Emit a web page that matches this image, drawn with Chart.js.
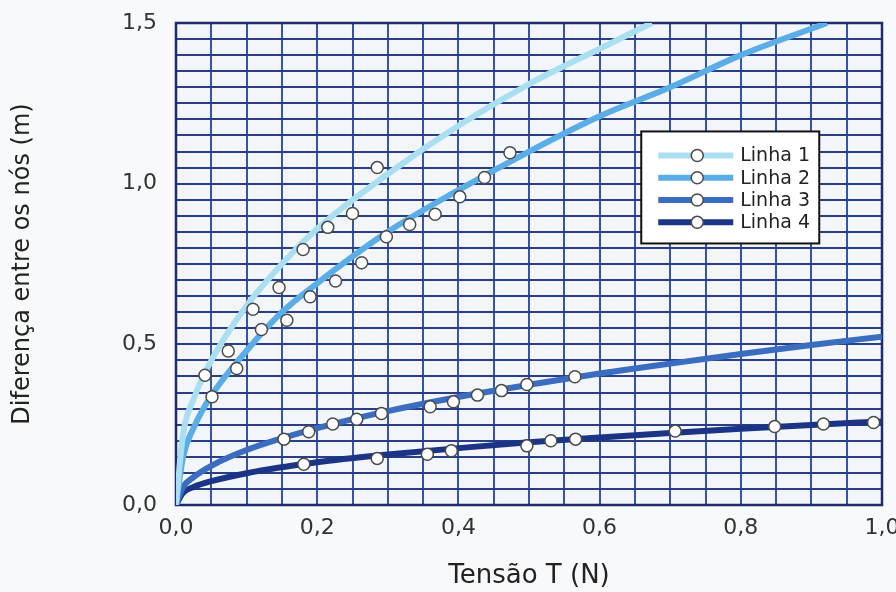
<!DOCTYPE html>
<html>
<head>
<meta charset="utf-8">
<script src="https://cdn.jsdelivr.net/npm/chart.js@4.4.1/dist/chart.umd.min.js"></script>
<style>
  html, body { margin: 0; padding: 0; background: #f8f9fa; }
  canvas { display: block; }
</style>
</head>
<body>
<canvas id="grafico" width="896" height="592"></canvas>
<script>
// Curvas ajustadas
var curvaX1 = [0, 0.01, 0.025, 0.05, 0.1, 0.15, 0.2, 0.3, 0.4, 0.5, 0.6, 0.674];
var curvaY1 = [0, 0.22, 0.33, 0.45, 0.62, 0.75, 0.86, 1.03, 1.18, 1.31, 1.42, 1.5];
var curvaX2 = [0, 0.01, 0.025, 0.05, 0.1, 0.15, 0.2, 0.3, 0.4, 0.5, 0.6, 0.7, 0.8, 0.922];
var curvaY2 = [0, 0.15, 0.24, 0.34, 0.48, 0.60, 0.69, 0.85, 0.98, 1.10, 1.21, 1.30, 1.40, 1.5];
var curvaX34 = [0, 0.01, 0.025, 0.05, 0.1, 0.2, 0.3, 0.4, 0.5, 0.6, 0.7, 0.8, 0.9, 1.0];
var curvaY3 = [0, 0.056, 0.087, 0.122, 0.171, 0.239, 0.292, 0.336, 0.374, 0.409, 0.44, 0.47, 0.498, 0.524];
var curvaY4 = [0, 0.038, 0.056, 0.074, 0.099, 0.133, 0.157, 0.177, 0.195, 0.21, 0.224, 0.237, 0.249, 0.26];

// Pontos medidos
var pontosX1 = [0.041, 0.074, 0.109, 0.146, 0.180, 0.215, 0.250, 0.285];
var pontosY1 = [0.404, 0.479, 0.609, 0.677, 0.795, 0.864, 0.907, 1.050];
var pontosX2 = [0.051, 0.086, 0.121, 0.157, 0.190, 0.226, 0.263, 0.298, 0.331, 0.367, 0.402, 0.437, 0.473];
var pontosY2 = [0.337, 0.425, 0.546, 0.575, 0.648, 0.697, 0.754, 0.835, 0.873, 0.905, 0.959, 1.019, 1.096];
var pontosX3 = [0.153, 0.188, 0.222, 0.256, 0.291, 0.360, 0.393, 0.427, 0.461, 0.497, 0.565];
var pontosY3 = [0.205, 0.228, 0.252, 0.267, 0.285, 0.306, 0.321, 0.342, 0.356, 0.375, 0.399];
var pontosX4 = [0.181, 0.285, 0.356, 0.390, 0.497, 0.531, 0.566, 0.707, 0.848, 0.917, 0.988];
var pontosY4 = [0.127, 0.145, 0.158, 0.169, 0.184, 0.200, 0.205, 0.230, 0.244, 0.252, 0.257];

var nomes = ["Linha 1", "Linha 2", "Linha 3", "Linha 4"];
var cores = ["#a9dff0", "#5aade6", "#3a6cc0", "#1c3486"];

function pares(xs, ys) {
  return xs.map(function (x, i) { return { x: x, y: ys[i] }; });
}

function virgula(v, casas) {
  return v.toFixed(casas).replace(".", ",");
}

var curvas = [pares(curvaX1, curvaY1), pares(curvaX2, curvaY2), pares(curvaX34, curvaY3), pares(curvaX34, curvaY4)];
var pontos = [pares(pontosX1, pontosY1), pares(pontosX2, pontosY2), pares(pontosX3, pontosY3), pares(pontosX4, pontosY4)];

var datasets = [];
for (var i = 0; i < 4; i++) {
  datasets.push({
    label: nomes[i],
    data: curvas[i],
    showLine: true,
    borderColor: cores[i],
    borderWidth: 6,
    pointRadius: 0,
    cubicInterpolationMode: 'monotone',
    order: 2
  });
  datasets.push({
    label: nomes[i] + " (pontos)",
    data: pontos[i],
    showLine: false,
    pointRadius: 6,
    pointBackgroundColor: '#ffffff',
    pointBorderColor: '#4a4a4a',
    pointBorderWidth: 1.5,
    order: 1
  });
}

// fundo e moldura da área do gráfico
var moldura = {
  id: 'moldura',
  beforeDraw: function (chart) {
    var a = chart.chartArea, ctx = chart.ctx;
    ctx.save();
    ctx.fillStyle = '#f2f6fb';
    ctx.fillRect(a.left, a.top, a.right - a.left, a.bottom - a.top);
    ctx.restore();
  },
  beforeDatasetsDraw: function (chart) {
    var a = chart.chartArea, ctx = chart.ctx;
    ctx.save();
    ctx.strokeStyle = '#1d2c6a';
    ctx.lineWidth = 2.5;
    ctx.strokeRect(a.left, a.top, a.right - a.left, a.bottom - a.top);
    ctx.restore();
  }
};

// legenda dentro da área
var legenda = {
  id: 'legenda',
  afterDraw: function (chart) {
    var a = chart.chartArea, ctx = chart.ctx;
    var w = a.right - a.left, h = a.bottom - a.top;
    var bx = a.left + 0.659 * w, by = a.top + 0.225 * h;
    var bw = 178, bh = 112;
    ctx.save();
    ctx.fillStyle = '#ffffff';
    ctx.fillRect(bx, by, bw, bh);
    ctx.strokeStyle = '#111111';
    ctx.lineWidth = 2;
    ctx.strokeRect(bx, by, bw, bh);
    ctx.font = '19px "DejaVu Sans", sans-serif';
    ctx.textBaseline = 'middle';
    for (var k = 0; k < 4; k++) {
      var yy = by + 24 + k * 22.3;
      ctx.strokeStyle = cores[k];
      ctx.lineWidth = 6;
      ctx.beginPath();
      ctx.moveTo(bx + 17, yy);
      ctx.lineTo(bx + 92, yy);
      ctx.stroke();
      ctx.beginPath();
      ctx.arc(bx + 56, yy, 6, 0, Math.PI * 2);
      ctx.fillStyle = '#ffffff';
      ctx.fill();
      ctx.strokeStyle = '#4a4a4a';
      ctx.lineWidth = 1.5;
      ctx.stroke();
      ctx.fillStyle = '#222222';
      ctx.fillText(nomes[k], bx + 99, yy + 1);
    }
    ctx.restore();
  }
};

Chart.defaults.font.family = '"DejaVu Sans", sans-serif';
Chart.defaults.color = '#333333';

var config = {
  type: 'scatter',
  data: { datasets: datasets },
  options: {
    responsive: false,
    animation: false,
    devicePixelRatio: 1,
    layout: { padding: { top: 23, right: 14, left: 0, bottom: 0 } },
    plugins: {
      legend: { display: false },
      tooltip: { enabled: false }
    },
    scales: {
      x: {
        type: 'linear',
        min: 0,
        max: 1,
        afterFit: function (s) { s.height = 87; s.paddingLeft = 0; s.paddingRight = 0; },
        border: { display: false },
        grid: { color: '#3553a8', lineWidth: 2, drawTicks: false },
        ticks: {
          stepSize: 0.05,
          autoSkip: false,
          maxRotation: 0,
          padding: 10,
          font: { size: 22 },
          callback: function (v) {
            var c = Math.round(v * 100);
            return c % 20 === 0 ? virgula(c / 100, 1) : '';
          }
        },
        title: {
          display: true,
          text: 'Tensão T (N)',
          font: { size: 26 },
          color: '#222222',
          padding: { top: 0, bottom: 0 }
        }
      },
      y: {
        type: 'linear',
        min: 0,
        max: 1.5,
        afterFit: function (s) { s.width = 176; s.paddingTop = 0; s.paddingBottom = 0; },
        border: { display: false },
        grid: { color: '#2a3d87', lineWidth: 2, drawTicks: false },
        ticks: {
          stepSize: 0.05,
          autoSkip: false,
          padding: 19,
          font: { size: 22 },
          callback: function (v) {
            var c = Math.round(v * 100);
            return c % 50 === 0 ? virgula(c / 100, 1) : '';
          }
        },
        title: {
          display: true,
          text: 'Diferença entre os nós (m)',
          font: { size: 24 },
          color: '#222222',
          padding: { top: 8, bottom: 0 }
        }
      }
    }
  },
  plugins: [moldura, legenda]
};

var grafico = new Chart(document.getElementById('grafico'), config);
</script>
</body>
</html>
